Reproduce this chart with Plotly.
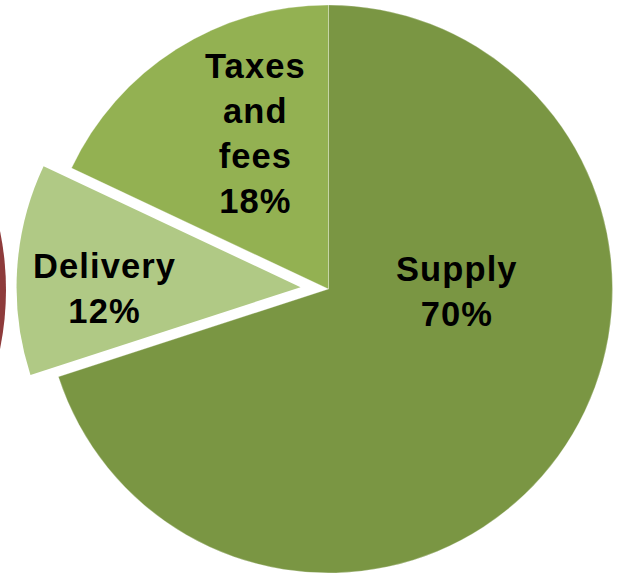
import plotly.graph_objects as go
import math

# ---- data ----
labels = ["Supply", "Delivery", "Taxes and fees"]
values = [70, 12, 18]

# ---- styles ----
slice_colors = ["#7A9643", "#B0C985", "#93B152"]
W, H = 618, 574
R = 284                      # pie radius in px
CX, CY = 328.5, 289.0        # pie centre in px (from top-left)
PULL_PX = 28                 # explode distance of Delivery
explode = [False, True, False]

# label anchor positions (px from top-left)
label_pos = [(457, 291), (104, 288), (255, 133)]

def domain_for(cx, cy, r):
    return dict(x=[(cx - r) / W, (cx + r) / W],
                y=[1 - (cy + r) / H, 1 - (cy - r) / H])

# mid angle of each slice (clockwise from 12 o'clock)
total = sum(values)
start = 0.0
mid_angles = []
for v in values:
    mid_angles.append(start + v / total * 360 / 2)
    start += v / total * 360

fig = go.Figure()

# main (non-exploded) slices
colors_main = [c if not e else "rgba(0,0,0,0)" for c, e in zip(slice_colors, explode)]
fig.add_trace(go.Pie(
    labels=labels, values=values, sort=False, direction="clockwise", rotation=0,
    marker=dict(colors=colors_main,
                line=dict(color="rgba(255,255,255,0.35)",
                          width=[0 if e else 0.8 for e in explode])),
    textinfo="none", hoverinfo="skip", showlegend=False,
    domain=domain_for(CX, CY, R),
))

# exploded slice(s), drawn from a displaced centre
for i, e in enumerate(explode):
    if not e:
        continue
    a = math.radians(mid_angles[i])
    dx, dy = math.sin(a) * PULL_PX, -math.cos(a) * PULL_PX
    cols = ["rgba(0,0,0,0)"] * len(values)
    cols[i] = slice_colors[i]
    fig.add_trace(go.Pie(
        labels=labels, values=values, sort=False, direction="clockwise", rotation=0,
        marker=dict(colors=cols, line=dict(width=0)),
        textinfo="none", hoverinfo="skip", showlegend=False,
        domain=domain_for(CX + dx, CY + dy, R),
    ))

# labels
for lab, v, (px, py) in zip(labels, values, label_pos):
    lines = lab.split(" ") + [f"{v}%"]
    txt = "<br>".join(f'<span style="letter-spacing:1.1px">{t}</span>' for t in lines)
    fig.add_annotation(
        x=px / W, y=1 - py / H, xref="paper", yref="paper",
        text=txt,
        showarrow=False, xanchor="center", yanchor="middle", align="center",
        font=dict(family="Liberation Sans, Arial, sans-serif", size=34.5,
                  color="#000000", weight="bold"),
    )

# partial dark-red circle at the left edge (neighbouring chart element)
rc, rcx, rcy = 293, -287, 290
fig.add_shape(type="circle", xref="paper", yref="paper", layer="below",
              x0=(rcx - rc) / W, x1=(rcx + rc) / W,
              y0=1 - (rcy + rc) / H, y1=1 - (rcy - rc) / H,
              fillcolor="#8E3B3B", line=dict(width=0))

fig.update_layout(
    width=W, height=H, margin=dict(l=0, r=0, t=0, b=0),
    paper_bgcolor="white", plot_bgcolor="white",
)

fig.write_html("out.html", config={"displayModeBar": False},
               post_script="document.body.style.margin='0';")
